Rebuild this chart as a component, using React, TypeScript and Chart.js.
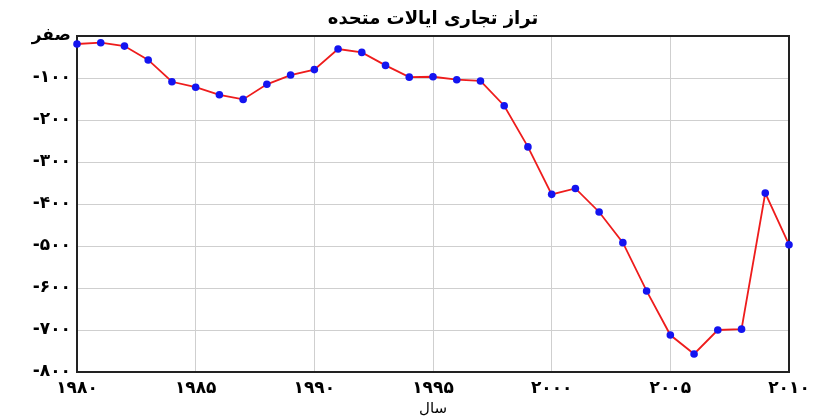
import React, { useEffect, useRef } from "react";
import { Chart, registerables } from "chart.js";

Chart.register(...registerables);

const years = [
  1980, 1981, 1982, 1983, 1984, 1985, 1986, 1987, 1988, 1989,
  1990, 1991, 1992, 1993, 1994, 1995, 1996, 1997, 1998, 1999,
  2000, 2001, 2002, 2003, 2004, 2005, 2006, 2007, 2008, 2009, 2010,
];
const balance = [
  -19, -16, -24, -57, -109, -122, -140, -151, -115, -93,
  -80, -31, -39, -70, -98, -97, -104, -107, -166, -264,
  -377, -363, -419, -492, -607, -712, -757, -700, -698, -374, -497,
];
const xTickValues = [1980, 1985, 1990, 1995, 2000, 2005, 2010];
const xTickLabels = ["۱۹۸۰", "۱۹۸۵", "۱۹۹۰", "۱۹۹۵", "۲۰۰۰", "۲۰۰۵", "۲۰۱۰"];
const yTickValues = [0, -100, -200, -300, -400, -500, -600, -700, -800];
const yTickLabels = ["صفر", "-۱۰۰", "-۲۰۰", "-۳۰۰", "-۴۰۰", "-۵۰۰", "-۶۰۰", "-۷۰۰", "-۸۰۰"];
const titleText = "تراز تجاری ایالات متحده";
const xAxisTitle = "سال";

const FONT = "'DejaVu Sans', sans-serif";

const framePlugin = {
  id: "frameAndTitle",
  beforeDatasetsDraw(chart: any) {
    const { ctx, chartArea } = chart;
    ctx.save();
    ctx.strokeStyle = "#222";
    ctx.lineWidth = 2;
    ctx.strokeRect(chartArea.left, chartArea.top, chartArea.right - chartArea.left, chartArea.bottom - chartArea.top);
    ctx.restore();
  },
  afterDraw(chart: any) {
    const { ctx, chartArea } = chart;
    ctx.save();
    ctx.fillStyle = "#000";
    ctx.font = `bold 18px ${FONT}`;
    ctx.textAlign = "center";
    ctx.textBaseline = "middle";
    ctx.fillText(titleText, (chartArea.left + chartArea.right) / 2, 19);
    ctx.restore();
  },
};

export default function App() {
  const ref = useRef<HTMLCanvasElement | null>(null);
  useEffect(() => {
    document.body.style.margin = "0";
    const canvas = ref.current!;
    const chart = new Chart(canvas, {
      type: "line",
      data: {
        datasets: [
          {
            data: years.map((y, i) => ({ x: y, y: balance[i] })),
            borderColor: "#ee1c1c",
            borderWidth: 1.8,
            pointBackgroundColor: "#1414f0",
            pointBorderColor: "#1414f0",
            pointRadius: 3.8,
            pointBorderWidth: 0,
            tension: 0,
            clip: false as any,
          },
        ],
      },
      options: {
        animation: false,
        responsive: false,
        maintainAspectRatio: false,
        layout: { padding: { left: 0, right: 33, top: 36, bottom: 0 } },
        plugins: {
          legend: { display: false },
          tooltip: { enabled: false },
          title: { display: false },
        },
        scales: {
          x: {
            type: "linear",
            min: 1980,
            max: 2010,
            afterBuildTicks(scale: any) {
              scale.ticks = xTickValues.map((v) => ({ value: v }));
            },
            afterFit(scale: any) {
              scale.height = 48;
            },
            ticks: {
              autoSkip: false,
              maxRotation: 0,
              padding: 6,
              color: "#000",
              font: { family: FONT, size: 17, weight: "bold" },
              callback: (v: any) => {
                const i = xTickValues.indexOf(Number(v));
                return i >= 0 ? xTickLabels[i] : "";
              },
            },
            grid: { color: "#cfcfcf", lineWidth: 1, drawTicks: false },
            border: { display: false },
            title: {
              display: true,
              text: xAxisTitle,
              color: "#000",
              font: { family: FONT, size: 15 },
              padding: { top: 0, bottom: 2 },
            },
          },
          y: {
            type: "linear",
            min: -800,
            max: 0,
            afterBuildTicks(scale: any) {
              scale.ticks = yTickValues.map((v) => ({ value: v }));
            },
            afterFit(scale: any) {
              scale.width = 77;
            },
            ticks: {
              autoSkip: false,
              padding: 6,
              color: "#000",
              font: { family: FONT, size: 17, weight: "bold" },
              callback: (v: any) => {
                const i = yTickValues.indexOf(Number(v));
                return i >= 0 ? yTickLabels[i] : "";
              },
            },
            grid: { color: "#cfcfcf", lineWidth: 1, drawTicks: false },
            border: { display: false },
          },
        },
      },
      plugins: [framePlugin],
    });
    return () => chart.destroy();
  }, []);
  return <canvas ref={ref} width={822} height={420} style={{ display: "block" }} />;
}
